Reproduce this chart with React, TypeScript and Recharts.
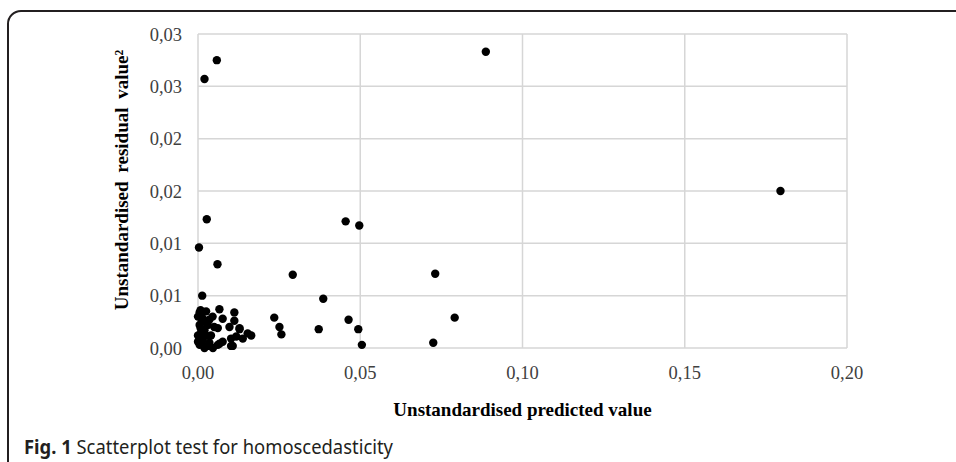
import React from "react";
import { ScatterChart, Scatter, XAxis, YAxis, CartesianGrid, Label } from "recharts";

// predicted value (x) and squared residual (y)
const predicted = [
  0.0058, 0.002, 0.0887, 0.1795, 0.0027, 0.0455, 0.0497, 0.0003, 0.006, 0.0292, 0.0731,
  0.0013, 0.0386, 0.0235, 0.0251, 0.0257, 0.0372, 0.0464, 0.0494, 0.0505, 0.0725, 0.0791,
  0.0066, 0.0025, 0.0005, 0.0112, 0.0076, 0.0035, 0.0112, 0.0097, 0.0061, 0.0128, 0.0005,
  0.002, 0.0164, 0.0153, 0.0118, 0.0102, 0.0076, 0.0102, 0.0061, 0.0035, 0.0046, 0.0005,
  0.0015, 0.0, 0.0015, 0.0, 0.003, 0.0, 0.002, 0.0138, 0.0107, 0.0066, 0.0128, 0.0008,
  0.001, 0.0012, 0.0008, 0.001, 0.0012, 0.0025, 0.003, 0.004, 0.005, 0.0045,
];
const residualSq = [
  0.0275, 0.0257, 0.0283, 0.015, 0.0123, 0.0121, 0.0117, 0.0096, 0.008, 0.007, 0.0071,
  0.005, 0.0047, 0.0029, 0.002, 0.0013, 0.0018, 0.0027, 0.0018, 0.0003, 0.0005, 0.0029,
  0.0037, 0.0035, 0.0034, 0.0034, 0.0028, 0.0027, 0.0026, 0.002, 0.0019, 0.0018, 0.0022,
  0.0017, 0.0012, 0.0014, 0.0011, 0.0009, 0.0006, 0.0002, 0.0003, 0.0005, 0.0, 0.0003,
  0.0009, 0.0012, 0.0028, 0.003, 0.0022, 0.0006, 0.0, 0.0009, 0.0002, 0.0004, 0.0019, 0.0036,
  0.0031, 0.0025, 0.0019, 0.0015, 0.0006, 0.0012, 0.0002, 0.0012, 0.002, 0.003,
];

const xTicks = [0, 0.05, 0.1, 0.15, 0.2];
const xTickLabels = ["0,00", "0,05", "0,10", "0,15", "0,20"];
const yTicks = [0, 0.005, 0.01, 0.015, 0.02, 0.025, 0.03];
const yTickLabels = ["0,00", "0,01", "0,01", "0,02", "0,02", "0,03", "0,03"];

const points = predicted.map((x, i) => ({ x, y: residualSq[i] }));

const serif = "'Liberation Serif', 'Times New Roman', serif";
const tickStyle = { fontFamily: serif, fontSize: 18.5, fill: "#404040" };

const Dot = (props: any) => <circle cx={props.cx} cy={props.cy} r={4.2} fill="#000" />;

export default function App() {
  return (
    <div style={{ position: "absolute", left: 0, top: 0, width: 956, height: 462, overflow: "hidden", background: "#fff" }}>
      <div
        style={{
          position: "absolute",
          left: 7,
          top: 10,
          width: 980,
          height: 480,
          border: "2px solid #231f20",
          borderTopLeftRadius: 14,
        }}
      />
      <div style={{ position: "absolute", left: 0, top: 0 }}>
        <ScatterChart width={956} height={462} margin={{ top: 34, right: 109, bottom: 84, left: 138 }}>
          <CartesianGrid stroke="#d6d6d6" strokeWidth={1.5} />
          <XAxis
            type="number"
            dataKey="x"
            domain={[0, 0.2]}
            ticks={xTicks}
            tickFormatter={(v: number) => xTickLabels[xTicks.indexOf(v)]}
            axisLine={false}
            tickLine={false}
            tickSize={0}
            tickMargin={18}
            height={30}
            tick={tickStyle}
            interval={0}
          >
            <Label
              content={({ viewBox }: any) => (
                <text
                  x={viewBox.x + viewBox.width / 2}
                  y={416}
                  textAnchor="middle"
                  style={{ fontFamily: serif, fontSize: 19, fontWeight: "bold", fill: "#000" }}
                >
                  Unstandardised predicted value
                </text>
              )}
            />
          </XAxis>
          <YAxis
            type="number"
            dataKey="y"
            domain={[0, 0.03]}
            ticks={yTicks}
            tickFormatter={(v: number) => yTickLabels[yTicks.indexOf(v)]}
            axisLine={false}
            tickLine={false}
            tickSize={0}
            tickMargin={16}
            width={60}
            tick={tickStyle}
            interval={0}
          >
            <Label
              content={() => (
                <text
                  x={128}
                  y={180}
                  textAnchor="middle"
                  transform="rotate(-90 128 180)"
                  style={{ fontFamily: serif, fontSize: 19, fontWeight: "bold", fill: "#000", wordSpacing: 4 }}
                >
                  Unstandardised residual value²
                </text>
              )}
            />
          </YAxis>
          <Scatter data={points} shape={Dot} isAnimationActive={false} />
        </ScatterChart>
      </div>
      <svg style={{ position: "absolute", left: 0, top: 428 }} width={956} height={34}>
        <text
          x={24}
          y={26}
          textLength={369}
          lengthAdjust="spacingAndGlyphs"
          style={{ fontFamily: "'Noto Sans', sans-serif", fontSize: 19, fill: "#231f20" }}
        >
          <tspan fontWeight="bold">Fig. 1</tspan> Scatterplot test for homoscedasticity
        </text>
      </svg>
    </div>
  );
}
